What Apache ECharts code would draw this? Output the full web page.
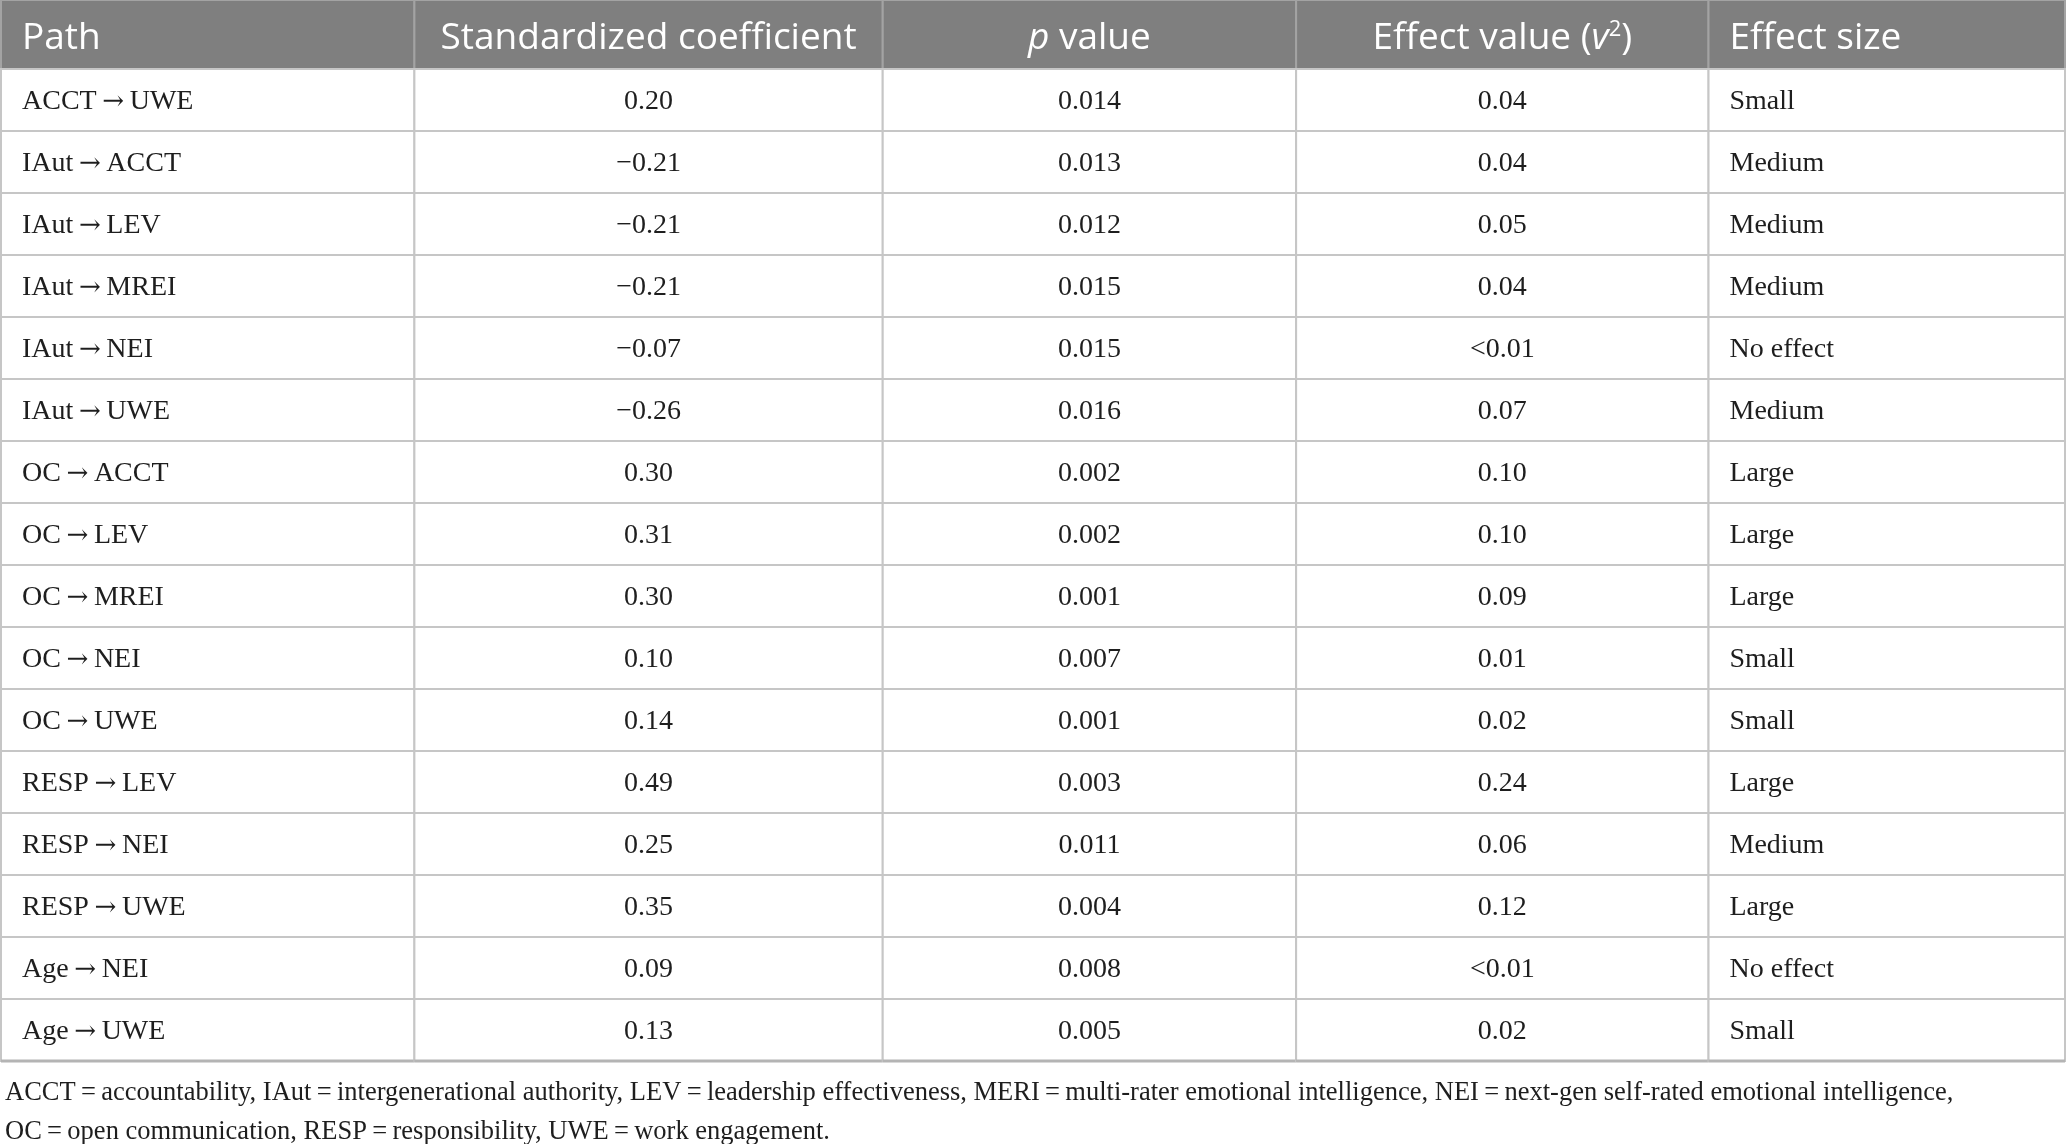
<!DOCTYPE html>
<html>
<head>
<meta charset="utf-8">
<title>Path coefficients</title>
<script src="https://cdn.jsdelivr.net/npm/echarts@6/dist/echarts.min.js"></script>
<style>
  html, body { margin: 0; padding: 0; background: #fff; }
  #path_table { width: 2067px; height: 1144px; }
</style>
</head>
<body>
<div id="path_table"></div>
<script>
// table content
const headers = ['Path', 'Standardized coefficient', '{i|p} value', 'Effect value ({i|v}{sup|2})', 'Effect size'];
const paths = [
  'ACCT\u2009\u2192\u2009UWE', 'IAut\u2009\u2192\u2009ACCT', 'IAut\u2009\u2192\u2009LEV', 'IAut\u2009\u2192\u2009MREI',
  'IAut\u2009\u2192\u2009NEI', 'IAut\u2009\u2192\u2009UWE', 'OC\u2009\u2192\u2009ACCT', 'OC\u2009\u2192\u2009LEV',
  'OC\u2009\u2192\u2009MREI', 'OC\u2009\u2192\u2009NEI', 'OC\u2009\u2192\u2009UWE', 'RESP\u2009\u2192\u2009LEV',
  'RESP\u2009\u2192\u2009NEI', 'RESP\u2009\u2192\u2009UWE', 'Age\u2009\u2192\u2009NEI', 'Age\u2009\u2192\u2009UWE'
];
const coefs = [0.20, -0.21, -0.21, -0.21, -0.07, -0.26, 0.30, 0.31, 0.30, 0.10, 0.14, 0.49, 0.25, 0.35, 0.09, 0.13];
const pValues = [0.014, 0.013, 0.012, 0.015, 0.015, 0.016, 0.002, 0.002, 0.001, 0.007, 0.001, 0.003, 0.011, 0.004, 0.008, 0.005];
const effectValues = ['0.04', '0.04', '0.05', '0.04', '<0.01', '0.07', '0.10', '0.10', '0.09', '0.01', '0.02', '0.24', '0.06', '0.12', '<0.01', '0.02'];
const effectSizes = ['Small', 'Medium', 'Medium', 'Medium', 'No effect', 'Medium', 'Large', 'Large', 'Large', 'Small', 'Small', 'Large', 'Medium', 'Large', 'No effect', 'Small'];
const footnote = 'ACCT\u2009=\u2009accountability, IAut\u2009=\u2009intergenerational authority, LEV\u2009=\u2009leadership effectiveness, MERI\u2009=\u2009multi-rater emotional intelligence, NEI\u2009=\u2009next-gen self-rated emotional intelligence,\n' +
  'OC\u2009=\u2009open communication, RESP\u2009=\u2009responsibility, UWE\u2009=\u2009work engagement.';

// layout (column widths, alignment)
const colWidths = [414, 469, 414, 413, 357];
const colAlign = ['left', 'center', 'center', 'center', 'left'];
const colEdges = [0];
colWidths.forEach(w => colEdges.push(colEdges[colEdges.length - 1] + w));
const totalW = colEdges[colEdges.length - 1];

const fmtNum = (v, d) => (v < 0 ? '\u2212' : '') + Math.abs(v).toFixed(d);
const cellText = (c, r) => [paths[r].replace('\u2192', '{a|\u2192}'), fmtNum(coefs[r], 2), fmtNum(pValues[r], 3), effectValues[r], effectSizes[r]][c];

const bodyData = [];
paths.forEach((p, r) => { for (let c = 0; c < headers.length; c++) bodyData.push([c, r]); });
const headData = headers.map((h, c) => [c, 0]);

function cellBox(api) {
  const c = api.value(0), r = api.value(1);
  const x0 = api.coord([colEdges[c], r])[0];
  const x1 = api.coord([colEdges[c + 1], r])[0];
  const yc = api.coord([0, r])[1];
  const h = api.size([0, 1])[1];
  return {c, r, x0, x1, yc, h};
}

function textX(b) {
  return colAlign[b.c] === 'left' ? b.x0 + 21 : (b.x0 + b.x1) / 2;
}

function renderHead(params, api) {
  const b = cellBox(api);
  return {
    type: 'group',
    children: [
      {type: 'rect', shape: {x: b.x0, y: b.yc - b.h / 2, width: b.x1 - b.x0, height: b.h},
        style: {fill: '#7f7f7f', stroke: '#a3a3a3', lineWidth: 2}},
      {type: 'text', style: {
        x: textX(b), y: b.yc + 4, text: headers[b.c], align: colAlign[b.c], verticalAlign: 'middle',
        fontFamily: 'Open Sans', fontSize: 37, fill: '#ffffff',
        rich: {
          i: {fontFamily: 'Open Sans', fontSize: 37, fontStyle: 'italic', fill: '#ffffff'},
          sup: {fontFamily: 'Open Sans', fontSize: 22, fill: '#ffffff', padding: [0, 0, 18, 0]}
        }
      }}
    ]
  };
}

function renderBody(params, api) {
  const b = cellBox(api);
  const children = [
    {type: 'rect', shape: {x: b.x0, y: b.yc - b.h / 2, width: b.x1 - b.x0, height: b.h},
      style: {fill: '#ffffff', stroke: '#c6c6c6', lineWidth: 2}},
    {type: 'text', style: {
      x: textX(b), y: b.yc + 2, text: cellText(b.c, b.r), align: colAlign[b.c], verticalAlign: 'middle',
      fontFamily: 'Liberation Serif', fontSize: 28, fill: '#1e1e1e',
      rich: {
        a: {fontFamily: 'DejaVu Serif', fontSize: 26, fill: '#1e1e1e'}
      }
    }}
  ];
  if (b.r === paths.length - 1) {
    children.push({type: 'line', shape: {x1: b.x0, y1: b.yc + b.h / 2, x2: b.x1, y2: b.yc + b.h / 2},
      style: {stroke: '#b4b4b4', lineWidth: 3}});
  }
  return {type: 'group', children};
}

let myChart = echarts.init(document.getElementById('path_table'));
myChart.setOption({
  animation: false,
  title: {
    text: footnote,
    left: 0,
    top: 1069,
    textStyle: {fontFamily: 'Liberation Serif', fontSize: 26.5, fontWeight: 'normal', color: '#1e1e1e', lineHeight: 39}
  },
  grid: [
    {left: 1, right: 2, top: 0, height: 69},
    {left: 1, right: 2, top: 69, height: 992}
  ],
  xAxis: [
    {type: 'value', gridIndex: 0, min: 0, max: totalW, show: false},
    {type: 'value', gridIndex: 1, min: 0, max: totalW, show: false}
  ],
  yAxis: [
    {type: 'category', gridIndex: 0, data: ['head'], inverse: true, show: false},
    {type: 'category', gridIndex: 1, data: paths, inverse: true, show: false}
  ],
  series: [
    {type: 'custom', xAxisIndex: 0, yAxisIndex: 0, data: headData, renderItem: renderHead, silent: true},
    {type: 'custom', xAxisIndex: 1, yAxisIndex: 1, data: bodyData, renderItem: renderBody, silent: true}
  ]
});
</script>
</body>
</html>
